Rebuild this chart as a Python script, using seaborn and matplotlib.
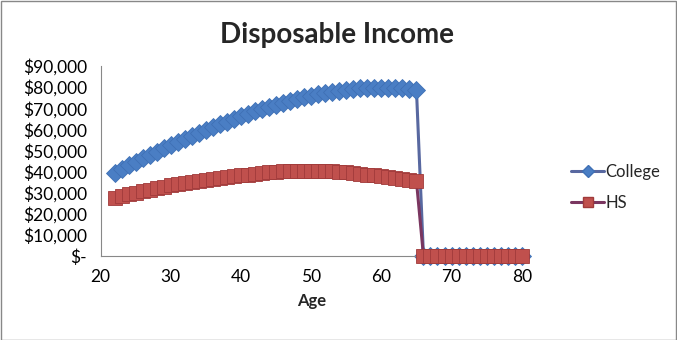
import matplotlib
matplotlib.use("Agg")
import matplotlib.pyplot as plt
import matplotlib.patches as mpatches
from matplotlib.lines import Line2D
from matplotlib.ticker import FuncFormatter
import seaborn as sns
import pandas as pd

ages = list(range(22, 81))
college = [39500, 41300, 43000, 44700, 46300, 47900, 49500, 51000, 52500, 54000,
           55500, 57000, 58400, 59800, 61100, 62400, 63700, 65000, 66200, 67400,
           68500, 69600, 70600, 71600, 72500, 73400, 74300, 75100, 75900, 76600,
           77200, 77800, 78300, 78700, 79100, 79400, 79600, 79700, 79800, 79800,
           79700, 79500, 79200, 78800] + [0] * 15
hs = [27500, 28400, 29200, 30000, 30800, 31500, 32200, 32800, 33400, 34000,
      34600, 35100, 35600, 36100, 36600, 37000, 37400, 37800, 38200, 38600,
      38900, 39300, 39600, 39900, 40100, 40300, 40400, 40500, 40500, 40400,
      40300, 40100, 39900, 39600, 39300, 39000, 38600, 38200, 37800, 37400,
      37000, 36500, 36000, 35500] + [0] * 15
series_names = ["College", "HS"]
y_ticks = [0, 10000, 20000, 30000, 40000, 50000, 60000, 70000, 80000, 90000]
x_ticks = [20, 30, 40, 50, 60, 70, 80]

df = pd.DataFrame({
    "Age": ages * 2,
    "Income": college + hs,
    "Series": [series_names[0]] * len(ages) + [series_names[1]] * len(ages),
})

sns.set_theme(style="white")
plt.rcParams["font.family"] = ["Lato", "DejaVu Sans"]

fig = plt.figure(figsize=(6.77, 3.40), dpi=100)
ax = fig.add_axes([100.7 / 677, 84 / 340, 421 / 677, 190 / 340])

styles = {
    "College": dict(line="#5868A0", face="#4A7EC4", edge="#3F70B5", marker="D", ms=9),
    "HS": dict(line="#7A3660", face="#C0504D", edge="#A03A3A", marker="s", ms=10),
}
for name in series_names:
    st = styles[name]
    sub = df[df["Series"] == name]
    sns.lineplot(data=sub, x="Age", y="Income", ax=ax, color=st["line"], lw=2.2,
                 marker=st["marker"], markersize=st["ms"], markerfacecolor=st["face"],
                 markeredgecolor=st["edge"], markeredgewidth=0.6, legend=False,
                 clip_on=False, zorder=3 if name == "HS" else 2)

ax.set_xlim(20, 80)
ax.set_ylim(0, 90000)
ax.set_xticks(x_ticks)
ax.set_yticks(y_ticks)
ax.yaxis.set_major_formatter(FuncFormatter(lambda v, p: "$-" if v == 0 else f"${v:,.0f}"))
for s in ["top", "right"]:
    ax.spines[s].set_visible(False)
for s in ["left", "bottom"]:
    ax.spines[s].set_color("#888888")
    ax.spines[s].set_linewidth(0.8)
ax.tick_params(axis="both", which="major", direction="out", length=4, width=0.8,
               color="#888888", labelsize=12.5, labelcolor="#000000", pad=5)
ax.tick_params(axis="y", pad=6)
ax.set_xlabel("Age", fontsize=12, fontweight="bold", labelpad=6)
ax.set_ylabel("")
ax.grid(False)

fig.text(337 / 677, 1 - 35 / 340, "Disposable Income", ha="center", va="center",
         fontsize=20, fontweight="bold")

handles = [Line2D([0], [0], color=styles[n]["line"], lw=2.2, marker=styles[n]["marker"],
                  markersize=styles[n]["ms"] * 0.7, markerfacecolor=styles[n]["face"],
                  markeredgecolor=styles[n]["edge"]) for n in series_names]
fig.legend(handles, series_names, loc="center left", bbox_to_anchor=(556 / 677, 1 - 187 / 340),
           frameon=False, fontsize=12, handlelength=2.0, handletextpad=0.05,
           labelspacing=0.9)

fig.patches.append(mpatches.Rectangle((0.5 / 677, 0.5 / 340), 675.5 / 677, 338.5 / 340,
                                      transform=fig.transFigure, fill=False,
                                      edgecolor="#888888", lw=1.0))
fig.savefig("out.png", dpi=100)
